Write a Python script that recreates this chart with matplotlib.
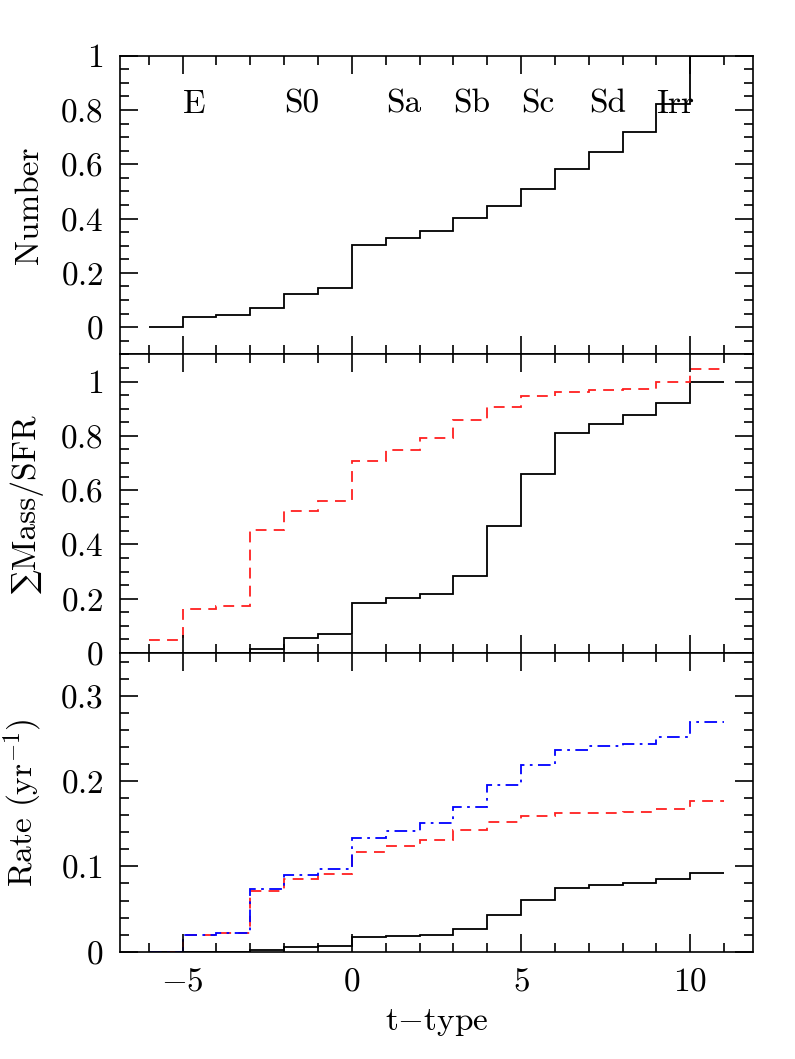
import numpy as np
import matplotlib
matplotlib.use("Agg")
import matplotlib.pyplot as plt
from matplotlib.ticker import MultipleLocator, FuncFormatter

# ─── DATA (cumulative step values, one per t-type bin [t, t+1)) ─────────────────
type_edges = np.arange(-6, 12)   # bin edges -6 .. 11

number_cum = [0.0, 0.039, 0.044, 0.070, 0.124, 0.146, 0.303, 0.330, 0.355,
              0.401, 0.448, 0.509, 0.584, 0.646, 0.718, 0.821, 1.0]

mass_cum = [0.0, 0.0, 0.0, 0.016, 0.056, 0.071, 0.183, 0.201, 0.217,
            0.283, 0.469, 0.661, 0.811, 0.845, 0.876, 0.921, 1.0]
sfr_cum = [0.048, 0.161, 0.172, 0.452, 0.525, 0.560, 0.707, 0.748, 0.792,
           0.859, 0.906, 0.946, 0.963, 0.969, 0.973, 1.0, 1.047]

rate_mass = [0.0, 0.0, 0.0, 0.0016, 0.005, 0.007, 0.017, 0.019, 0.020,
             0.027, 0.043, 0.061, 0.075, 0.078, 0.081, 0.085, 0.092]
rate_sfr = [0.0, 0.0195, 0.0215, 0.0715, 0.085, 0.0906, 0.1164, 0.124, 0.131,
            0.1426, 0.152, 0.159, 0.162, 0.1625, 0.1637, 0.1676, 0.1766]
rate_sum = [0.0, 0.0195, 0.022, 0.0734, 0.0898, 0.0969, 0.1336, 0.142, 0.151,
            0.1695, 0.195, 0.219, 0.236, 0.2406, 0.244, 0.252, 0.2687]

morph_labels = ["E", "S0", "Sa", "Sb", "Sc", "Sd", "Irr"]
morph_x = [-5, -2, 1, 3, 5, 7, 9]

# ─── STYLE ──────────────────────────────────────────────────────────────────────
plt.rcParams["font.family"] = ["cmr10", "DejaVu Serif"]
plt.rcParams["mathtext.fontset"] = "cm"
plt.rcParams["axes.formatter.use_mathtext"] = True
plt.rcParams["axes.linewidth"] = 1.2

RED = "#ff2020"
BLUE = "#0000ff"
FS = 24

fig, axes = plt.subplots(3, 1, figsize=(7.95, 10.59), dpi=100, sharex=True)
fig.subplots_adjust(left=0.151, right=0.947, top=0.9474, bottom=0.1013, hspace=0)

fmt = FuncFormatter(lambda v, p: f"${v:g}$")

for ax in axes:
    ax.set_xlim(-6.85, 11.85)
    ax.xaxis.set_major_locator(MultipleLocator(5))
    ax.xaxis.set_minor_locator(MultipleLocator(1))
    ax.tick_params(which="both", direction="in", top=True, right=True,
                   width=1.2, labelsize=FS)
    ax.tick_params(which="major", length=13)
    ax.tick_params(which="minor", length=6.5)
    ax.tick_params(axis="y", pad=12)
    ax.tick_params(axis="x", pad=11)
    ax.yaxis.set_major_formatter(fmt)
    ax.xaxis.set_major_formatter(fmt)

# panel 1: number
ax = axes[0]
ax.stairs(number_cum, type_edges, baseline=None, color="black", lw=1.3)
ax.set_ylim(-0.1, 1.0)
ax.yaxis.set_major_locator(MultipleLocator(0.2))
ax.yaxis.set_minor_locator(MultipleLocator(0.05))
ax.set_ylabel("Number", fontsize=FS)
for lab, xx in zip(morph_labels, morph_x):
    ax.text(xx, 0.79, lab, fontsize=FS, ha="left", va="baseline")

# panel 2: cumulative mass / SFR
ax = axes[1]
ax.stairs(mass_cum, type_edges, baseline=None, color="black", lw=1.3)
ax.stairs(sfr_cum, type_edges, baseline=None, color=RED, lw=1.3,
          linestyle=(0, (6, 4)))
ax.set_ylim(0, 1.1)
ax.yaxis.set_major_locator(MultipleLocator(0.2))
ax.yaxis.set_minor_locator(MultipleLocator(0.05))
ax.set_ylabel("\u2211Mass/SFR", fontsize=FS)

# panel 3: rates
ax = axes[2]
ax.stairs(rate_mass, type_edges, baseline=None, color="black", lw=1.3)
ax.stairs(rate_sfr, type_edges, baseline=None, color=RED, lw=1.3,
          linestyle=(0, (6, 4)))
ax.stairs(rate_sum, type_edges, baseline=None, color=BLUE, lw=1.3,
          linestyle=(0, (7, 3, 1.5, 3)))
ax.set_ylim(0, 0.35)
ax.yaxis.set_major_locator(MultipleLocator(0.1))
ax.yaxis.set_minor_locator(MultipleLocator(0.02))
ax.set_ylabel(r"Rate (yr$^{-1}$)", fontsize=FS)
ax.set_xlabel(r"t$-$type", fontsize=FS, labelpad=8)

for ax in axes:
    ax.yaxis.set_label_coords(-0.12, 0.5)

fig.savefig("out.png", dpi=100)
